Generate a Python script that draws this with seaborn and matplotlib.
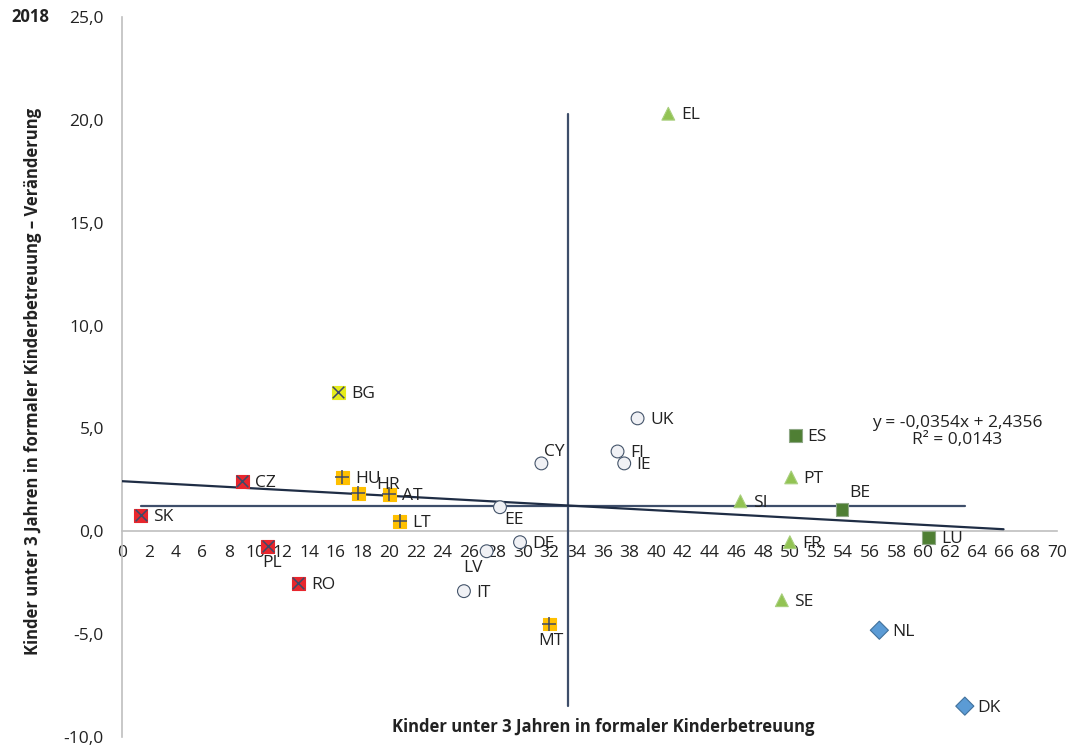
import numpy as np
import pandas as pd
import matplotlib
matplotlib.use('Agg')
import matplotlib.pyplot as plt
import seaborn as sns

# Daten
countries = ['SK', 'CZ', 'PL', 'RO', 'BG', 'HU', 'HR', 'AT', 'LT', 'MT',
             'IT', 'LV', 'EE', 'DE', 'CY', 'FI', 'IE', 'UK',
             'EL', 'SI', 'SE', 'FR', 'PT', 'ES', 'BE', 'LU', 'NL', 'DK']
x_values = [1.4, 9.0, 10.9, 13.2, 16.2, 16.5, 17.7, 20.0, 20.8, 32.0,
            25.6, 27.3, 28.3, 29.8, 31.4, 37.1, 37.6, 38.6,
            40.9, 46.3, 49.4, 50.0, 50.1, 50.4, 53.9, 60.4, 56.7, 63.1]
y_values = [0.78, 2.43, -0.73, -2.52, 6.75, 2.62, 1.84, 1.80, 0.49, -4.51,
            -2.91, -0.97, 1.17, -0.53, 3.30, 3.88, 3.30, 5.49,
            20.3, 1.46, -3.35, -0.53, 2.62, 4.66, 1.07, -0.29, -4.81, -8.50]
groups = ['A', 'A', 'A', 'A', 'B', 'C', 'C', 'C', 'C', 'C',
          'D', 'D', 'D', 'D', 'D', 'D', 'D', 'D',
          'E', 'E', 'E', 'E', 'E', 'F', 'F', 'F', 'G', 'G']
trend_slope = -0.0354
trend_intercept = 2.4356
trend_range = [0, 66]
y_ticks = [-10, -5, 0, 5, 10, 15, 20, 25]
x_ticks = list(range(0, 72, 2))

df = pd.DataFrame({'Land': countries, 'x': x_values, 'y': y_values, 'Gruppe': groups})

palette = {'A': '#E8262D', 'B': '#E5EC1C', 'C': '#FFC000', 'D': '#F0F1F5',
           'E': '#92C353', 'F': '#4F7F34', 'G': '#5B9BD5'}
edges = {'A': '#E8262D', 'B': '#E5EC1C', 'C': '#FFC000', 'D': '#44546A',
         'E': '#A9CF7E', 'F': '#8FA886', 'G': '#41719C'}
markers = {'A': 's', 'B': 's', 'C': 's', 'D': 'o', 'E': '^', 'F': 's', 'G': 'D'}
overlay = {'A': ('x', 70), 'B': ('x', 70), 'C': ('+', 95)}

# label offsets in points (dx, dy, ha)
label_pos = {'PL': (3, -12, 'center'), 'HR': (21, 6, 'center'), 'LV': (-10, -12, 'center'),
             'EE': (10, -9, 'center'), 'CY': (9, 8, 'center'), 'MT': (1, -12, 'center'),
             'BE': (13, 12, 'center')}

sns.set_style('white')
plt.rcParams['font.family'] = ['Open Sans', 'DejaVu Sans']
fig = plt.figure(figsize=(10.72, 7.47), dpi=100)
ax = fig.add_axes([0.1138, 0.0134, 0.8722, 0.9638])

sns.scatterplot(data=df, x='x', y='y', hue='Gruppe', style='Gruppe', palette=palette,
                markers=markers, s=85, linewidth=0.8, legend=False, ax=ax, zorder=4)
ax.collections[0].set_edgecolors([edges[g] for g in groups])

for g, (m, size) in overlay.items():
    sub = df[df['Gruppe'] == g]
    ax.scatter(sub['x'], sub['y'], marker=m, s=size, color='#3E4A68', linewidth=1.1, zorder=5)

# Mittelwertlinien
x_mean = np.mean(x_values)
y_mean = np.mean(y_values)
ax.plot([min(x_values), max(x_values)], [y_mean, y_mean], color='#3E4E6A', lw=1.6, zorder=3)
ax.plot([x_mean, x_mean], [min(y_values), max(y_values)], color='#3E4E6A', lw=1.6, zorder=3)

# Trendlinie
tx = np.array(trend_range)
ax.plot(tx, trend_slope * tx + trend_intercept, color='#1F2D45', lw=1.6, zorder=3)
ax.text(62.5, 4.85, 'y = -0,0354x + 2,4356\nR² = 0,0143', ha='center', va='center',
        fontsize=12.5, linespacing=1.15, color='#222222')

for c, xv, yv in zip(countries, x_values, y_values):
    dx, dy, ha = label_pos.get(c, (9, -1, 'left'))
    ax.annotate(c, (xv, yv), xytext=(dx, dy), textcoords='offset points',
                ha=ha, va='center', fontsize=12.5, color='#222222', zorder=6)

ax.set_xlim(0, 70)
ax.set_ylim(-10, 25)
ax.set_xticks(x_ticks)
ax.set_yticks(y_ticks)
ax.set_yticklabels([f'{v:.1f}'.replace('.', ',') for v in y_ticks])
ax.tick_params(axis='both', labelsize=12.5, colors='#222222', length=0)
ax.tick_params(axis='y', pad=13)
ax.tick_params(axis='x', pad=10)
ax.spines['bottom'].set_position(('data', 0))
for s in ['top', 'right']:
    ax.spines[s].set_visible(False)
for s in ['left', 'bottom']:
    ax.spines[s].set_color('#BFBFBF')
    ax.spines[s].set_linewidth(1.2)
ax.set_xlabel('')
ax.set_ylabel('')

fig.text(0.5625, 0.027, 'Kinder unter 3 Jahren in formaler Kinderbetreuung', ha='center', va='center',
         fontsize=12, fontweight='bold', color='#222222',
         family=['Liberation Sans Narrow', 'Open Sans', 'DejaVu Sans'])
fig.text(0.031, 0.49, 'Kinder unter 3 Jahren in formaler Kinderbetreuung – Veränderung', ha='center',
         va='center', rotation=90, fontsize=12, fontweight='bold', color='#222222',
         family=['Liberation Sans Narrow', 'Open Sans', 'DejaVu Sans'])
fig.text(0.028, 0.977, '2018', ha='center', va='center', fontsize=12, fontweight='bold', color='#222222')

fig.savefig('out.png', dpi=100)
